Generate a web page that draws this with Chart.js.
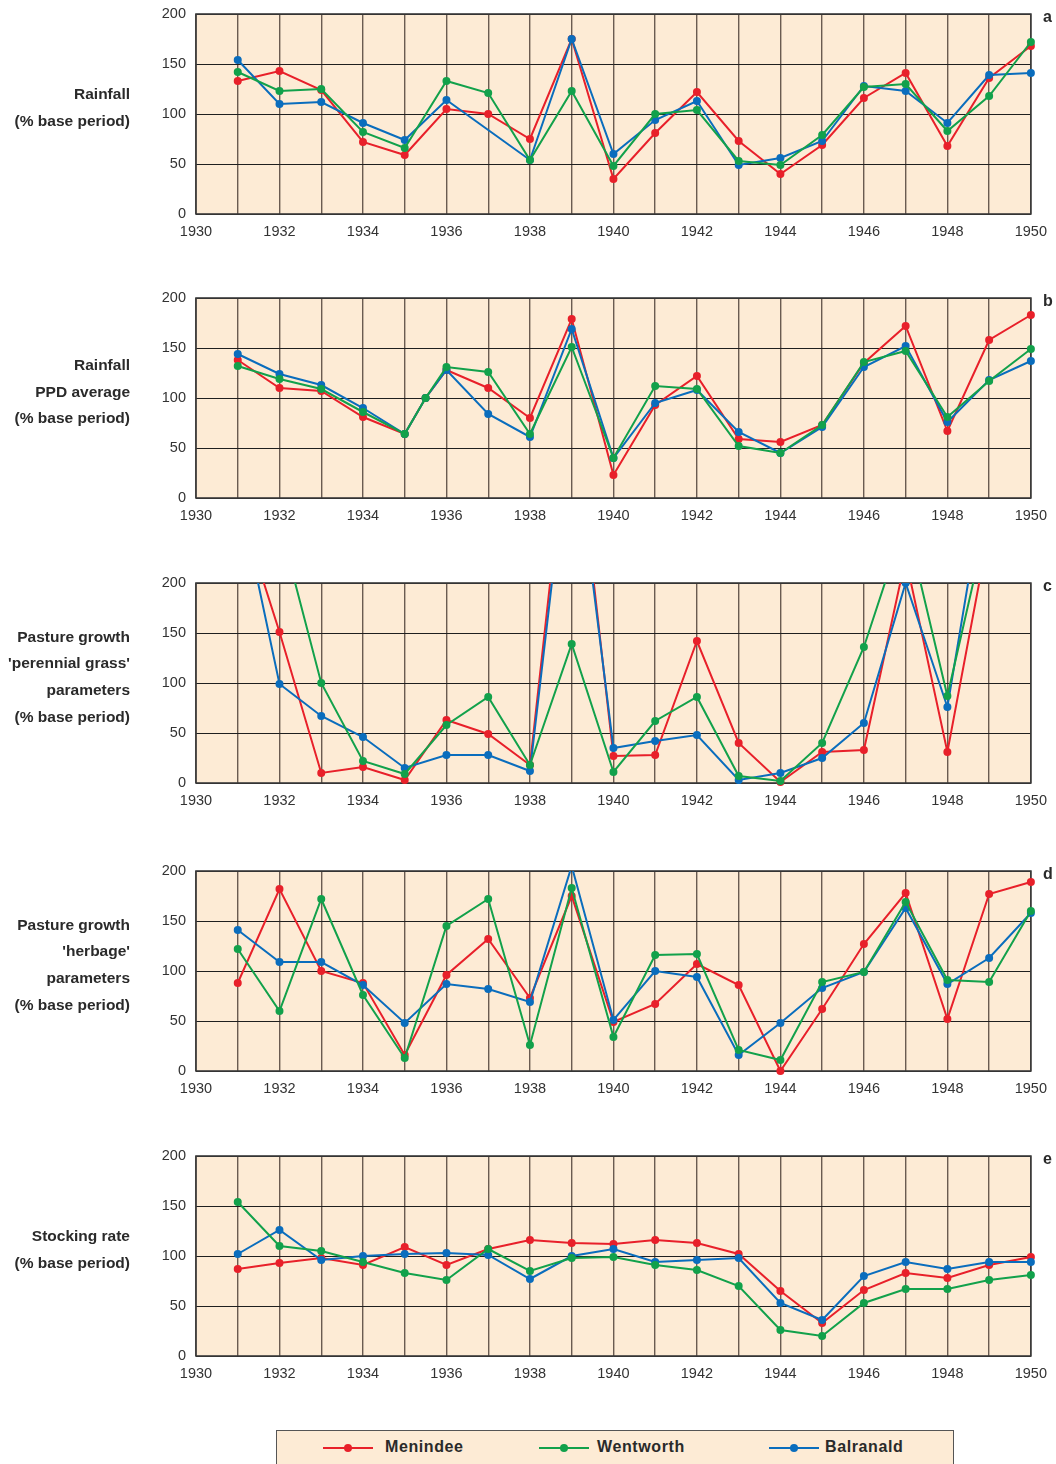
<!DOCTYPE html>
<html>
<head>
<meta charset="utf-8">
<script src="https://cdn.jsdelivr.net/npm/chart.js@4/dist/chart.umd.min.js"></script>
<style>
  html,body{margin:0;padding:0;background:#fff;}
  body{width:1056px;height:1464px;position:relative;overflow:hidden;}
  .panel{position:absolute;left:0;width:1056px;height:256px;}
  .lab{position:absolute;right:926px;text-align:right;white-space:nowrap;
       font-family:'Liberation Sans',Arial,sans-serif;
       font-weight:bold;font-size:15.5px;line-height:26.7px;color:#2a2a2a;}
  .letter{position:absolute;left:1043px;font-family:'Liberation Sans',Arial,sans-serif;
       font-weight:bold;font-size:16px;color:#2a2a2a;}
  .legend{position:absolute;left:276px;top:1430px;width:678px;height:60px;background:#fdebd5;
       border:1.5px solid #555;box-sizing:border-box;}
  .li{position:absolute;top:0;height:34px;}
  .li .ln{position:absolute;top:16px;height:2px;width:50px;}
  .li .dt{position:absolute;top:13px;left:21px;width:8px;height:8px;border-radius:50%;}
  .li .tx{position:absolute;top:7px;white-space:nowrap;
       font-family:'Liberation Sans',Arial,sans-serif;
       font-weight:bold;font-size:16px;letter-spacing:0.6px;color:#2a2a2a;}
</style>
</head>
<body>
<script>
// ---------------- data ----------------
const years  = [1931,1932,1933,1934,1935,1936,1937,1938,1939,1940,1941,1942,1943,1944,1945,1946,1947,1948,1949,1950];
const yearsB = [1931,1932,1933,1934,1935,1935.5,1936,1937,1938,1939,1940,1941,1942,1943,1944,1945,1946,1947,1948,1949,1950];
const xTickYears = [1930,1932,1934,1936,1938,1940,1942,1944,1946,1948,1950];
const yTickValues = [0,50,100,150,200];
const seriesNames = ['Menindee','Wentworth','Balranald'];

// a: Rainfall
const rainMen = [133,143,124,72,59,105,100,75,175,35,81,122,73,40,69,116,141,68,136,168];
const rainWen = [142,123,125,82,66,133,121,54,123,48,100,104,53,49,79,127,130,83,118,172];
const rainBal = [154,110,112,91,74,114,null,54,175,60,94,113,49,56,73,128,123,91,139,141];

// b: Rainfall PPD average (uses yearsB)
const ppdMen = [138,110,107,81,64,100,128,110,80,179,23,93,122,59,56,73,135,172,67,158,183];
const ppdWen = [132,119,109,86,64,100,131,126,64,151,40,112,109,52,45,73,136,147,81,117,149];
const ppdBal = [144,124,113,90,64,100,128,84,61,169,40,95,108,66,45,71,131,152,76,118,137];

// c: Pasture growth 'perennial grass'
const grassMen = [282,151,10,16,3,63,49,18,395,27,28,142,40,1,31,33,225,31,253,300];
const grassWen = [300,260,100,22,9,58,86,18,139,11,62,86,7,2,40,136,263,87,270,300];
const grassBal = [296,99,67,46,15,28,28,12,370,35,42,48,3,10,25,60,200,76,326,350];

// d: Pasture growth 'herbage'
const herbMen = [88,182,100,88,16,96,132,73,175,49,67,107,86,0,62,127,178,52,177,189];
const herbWen = [122,60,172,76,13,145,172,26,183,34,116,117,21,11,89,99,169,91,89,160];
const herbBal = [141,109,109,86,48,87,82,69,205,51,100,94,16,48,83,99,163,87,113,158];

// e: Stocking rate
const stockMen = [87,93,98,91,109,91,107,116,113,112,116,113,102,65,33,66,83,78,91,99];
const stockWen = [154,110,105,94,83,76,107,85,98,99,91,86,70,26,20,53,67,67,76,81];
const stockBal = [102,126,96,100,102,103,101,77,100,107,94,96,98,53,36,80,94,87,94,94];

const colors = ['#e8202a','#12a14b','#0a6dbd'];
const drawOrder = [3,1,2];

const panels = [
  {letter:'a', top:14,  xs:years,  series:[rainMen,rainWen,rainBal],   label:['Rainfall','(% base period)']},
  {letter:'b', top:298, xs:yearsB, series:[ppdMen,ppdWen,ppdBal],      label:['Rainfall','PPD average','(% base period)']},
  {letter:'c', top:583, xs:years,  series:[grassMen,grassWen,grassBal],label:['Pasture growth',"'perennial grass'",'parameters','(% base period)']},
  {letter:'d', top:871, xs:years,  series:[herbMen,herbWen,herbBal],   label:['Pasture growth',"'herbage'",'parameters','(% base period)']},
  {letter:'e', top:1156,xs:years,  series:[stockMen,stockWen,stockBal],label:['Stocking rate','(% base period)']}
];

// ---------------- drawing ----------------
const TICK_FONT = {family:"'Liberation Sans',Arial,sans-serif", size:14.5};
const PAD_TOP = 24;

const framePlugin = {
  id:'frame',
  beforeDraw(chart){
    const a = chart.chartArea, c = chart.ctx;
    c.save(); c.fillStyle = '#fdebd5';
    c.fillRect(a.left, a.top, a.right-a.left, a.bottom-a.top); c.restore();
  },
  beforeDatasetsDraw(chart){
    const a = chart.chartArea, c = chart.ctx;
    c.save(); c.strokeStyle = '#3a3a3a'; c.lineWidth = 1.6;
    c.strokeRect(a.left, a.top, a.right-a.left, a.bottom-a.top); c.restore();
  }
};

panels.forEach(p => {
  const wrap = document.createElement('div');
  wrap.className = 'panel';
  wrap.style.top = (p.top - PAD_TOP) + 'px';
  const cv = document.createElement('canvas');
  cv.width = 1056; cv.height = 256;
  cv.style.width = '1056px'; cv.style.height = '256px';
  wrap.appendChild(cv);
  document.body.appendChild(wrap);

  // left label
  const lab = document.createElement('div');
  lab.className = 'lab';
  const n = p.label.length;
  lab.style.top = (p.top + 94 - n*26.7/2) + 'px';
  lab.innerHTML = p.label.map(s => s.replace(/&/g,'&amp;')).join('<br>');
  document.body.appendChild(lab);

  // panel letter
  const let_ = document.createElement('div');
  let_.className = 'letter';
  let_.style.top = (p.top - 6) + 'px';
  let_.textContent = p.letter;
  document.body.appendChild(let_);

  const datasets = p.series.map((vals, i) => ({
    label: seriesNames[i],
    data: p.xs.map((x, j) => ({x: x, y: vals[j]})),
    borderColor: colors[i],
    backgroundColor: colors[i],
    pointBackgroundColor: colors[i],
    pointBorderColor: colors[i],
    borderWidth: 2,
    pointRadius: 4,
    pointBorderWidth: 0,
    tension: 0,
    spanGaps: true,
    order: drawOrder[i],
    clip: {left: 6, right: 6, top: 0, bottom: 6}
  }));

  new Chart(cv.getContext('2d'), {
    type: 'line',
    data: {datasets},
    options: {
      responsive: false,
      animation: false,
      devicePixelRatio: 1,
      layout: {padding: {top: PAD_TOP, right: 23, left: 0, bottom: 0}},
      plugins: {legend: {display: false}, tooltip: {enabled: false}},
      scales: {
        x: {
          type: 'linear', min: 1930, max: 1950,
          ticks: {
            stepSize: 1, autoSkip: false, maxRotation: 0, minRotation: 0,
            callback: v => xTickYears.includes(v) ? String(v) : '',
            font: TICK_FONT, color: '#333', padding: 9
          },
          grid: {color: 'rgba(80,66,58,0.85)', lineWidth: 1.4, drawTicks: false},
          border: {display: false},
          afterFit: s => { s.height = 32; }
        },
        y: {
          min: 0, max: 200,
          afterBuildTicks: s => { s.ticks = yTickValues.map(v => ({value: v})); },
          ticks: {font: TICK_FONT, color: '#333', padding: 10, callback: v => String(v)},
          grid: {color: '#1f1f1f', lineWidth: 1, drawTicks: false},
          border: {display: false},
          afterFit: s => { s.width = 196; }
        }
      }
    },
    plugins: [framePlugin]
  });
});

// ---------------- legend ----------------
const leg = document.createElement('div');
leg.className = 'legend';
const legendItems = [{line:46, text:108}, {line:262, text:320}, {line:492, text:548}];
seriesNames.forEach((name, i) => {
  const li = document.createElement('div');
  li.className = 'li';
  li.style.left = legendItems[i].line + 'px';
  li.innerHTML = '<div class="ln" style="left:0;background:' + colors[i] + '"></div>' +
                 '<div class="dt" style="background:' + colors[i] + '"></div>' +
                 '<div class="tx" style="left:' + (legendItems[i].text - legendItems[i].line) + 'px">' + name + '</div>';
  leg.appendChild(li);
});
document.body.appendChild(leg);
</script>
</body>
</html>
